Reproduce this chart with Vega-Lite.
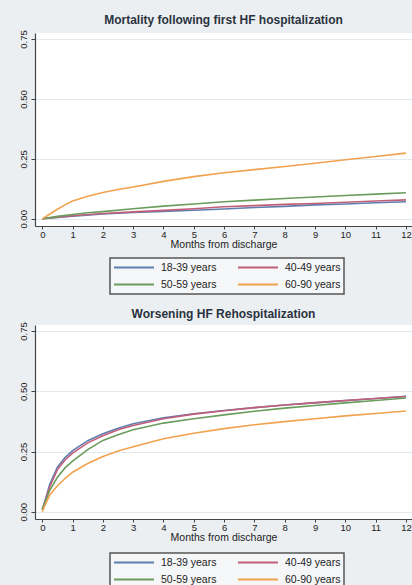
{
  "$schema": "https://vega.github.io/schema/vega-lite/v6.json",
  "background": "#eceff2",
  "padding": {"left": 18, "top": 13, "right": 0, "bottom": 0},
  "spacing": 12,
  "config": {
    "font": "Liberation Sans",
    "view": {"fill": "#ffffff", "stroke": null},
    "axis": {
      "domainColor": "#444444",
      "domainWidth": 1.2,
      "tickColor": "#444444",
      "labelColor": "#222222",
      "titleColor": "#222222",
      "labelFont": "Liberation Sans",
      "titleFont": "Liberation Sans",
      "gridColor": "#e3eaee",
      "gridWidth": 1
    },
    "title": {"font": "Liberation Sans", "fontSize": 12, "fontWeight": "bold", "color": "#2a3340", "offset": 3},
    "legend": {
      "orient": "none",
      "legendX": 75,
      "legendY": 225,
      "columns": 2,
      "direction": "horizontal",
      "title": null,
      "symbolType": "stroke",
      "symbolSize": 1600,
      "symbolStrokeWidth": 1.8,
      "clipHeight": 13,
      "labelFont": "Liberation Sans",
      "labelFontSize": 10.5,
      "labelColor": "#222222",
      "labelOffset": 6,
      "columnPadding": 20,
      "rowPadding": 4,
      "padding": 3,
      "fillColor": "#f5f6f8",
      "strokeColor": "#555555",
      "strokeWidth": 1.5
    }
  },
  "datasets": {
    "mort": [
      {"month": 0, "value": 0, "group": "18-39 years"},
      {"month": 0.5, "value": 0.006, "group": "18-39 years"},
      {"month": 1, "value": 0.011, "group": "18-39 years"},
      {"month": 2, "value": 0.02, "group": "18-39 years"},
      {"month": 3, "value": 0.026, "group": "18-39 years"},
      {"month": 4, "value": 0.031, "group": "18-39 years"},
      {"month": 5, "value": 0.036, "group": "18-39 years"},
      {"month": 6, "value": 0.041, "group": "18-39 years"},
      {"month": 7, "value": 0.047, "group": "18-39 years"},
      {"month": 8, "value": 0.052, "group": "18-39 years"},
      {"month": 9, "value": 0.058, "group": "18-39 years"},
      {"month": 10, "value": 0.062, "group": "18-39 years"},
      {"month": 11, "value": 0.067, "group": "18-39 years"},
      {"month": 12, "value": 0.071, "group": "18-39 years"},
      {"month": 0, "value": 0, "group": "40-49 years"},
      {"month": 0.5, "value": 0.007, "group": "40-49 years"},
      {"month": 1, "value": 0.013, "group": "40-49 years"},
      {"month": 2, "value": 0.022, "group": "40-49 years"},
      {"month": 3, "value": 0.029, "group": "40-49 years"},
      {"month": 4, "value": 0.035, "group": "40-49 years"},
      {"month": 5, "value": 0.042, "group": "40-49 years"},
      {"month": 6, "value": 0.05, "group": "40-49 years"},
      {"month": 7, "value": 0.055, "group": "40-49 years"},
      {"month": 8, "value": 0.06, "group": "40-49 years"},
      {"month": 9, "value": 0.064, "group": "40-49 years"},
      {"month": 10, "value": 0.069, "group": "40-49 years"},
      {"month": 11, "value": 0.074, "group": "40-49 years"},
      {"month": 12, "value": 0.079, "group": "40-49 years"},
      {"month": 0, "value": 0, "group": "50-59 years"},
      {"month": 0.25, "value": 0.005, "group": "50-59 years"},
      {"month": 0.5, "value": 0.01, "group": "50-59 years"},
      {"month": 1, "value": 0.018, "group": "50-59 years"},
      {"month": 1.5, "value": 0.025, "group": "50-59 years"},
      {"month": 2, "value": 0.03, "group": "50-59 years"},
      {"month": 3, "value": 0.042, "group": "50-59 years"},
      {"month": 4, "value": 0.053, "group": "50-59 years"},
      {"month": 5, "value": 0.062, "group": "50-59 years"},
      {"month": 6, "value": 0.071, "group": "50-59 years"},
      {"month": 7, "value": 0.078, "group": "50-59 years"},
      {"month": 8, "value": 0.085, "group": "50-59 years"},
      {"month": 9, "value": 0.091, "group": "50-59 years"},
      {"month": 10, "value": 0.097, "group": "50-59 years"},
      {"month": 11, "value": 0.103, "group": "50-59 years"},
      {"month": 12, "value": 0.109, "group": "50-59 years"},
      {"month": 0, "value": 0, "group": "60-90 years"},
      {"month": 0.1, "value": 0.008, "group": "60-90 years"},
      {"month": 0.25, "value": 0.02, "group": "60-90 years"},
      {"month": 0.5, "value": 0.04, "group": "60-90 years"},
      {"month": 0.75, "value": 0.058, "group": "60-90 years"},
      {"month": 1, "value": 0.074, "group": "60-90 years"},
      {"month": 1.5, "value": 0.094, "group": "60-90 years"},
      {"month": 2, "value": 0.11, "group": "60-90 years"},
      {"month": 2.5, "value": 0.122, "group": "60-90 years"},
      {"month": 3, "value": 0.133, "group": "60-90 years"},
      {"month": 4, "value": 0.156, "group": "60-90 years"},
      {"month": 5, "value": 0.176, "group": "60-90 years"},
      {"month": 6, "value": 0.192, "group": "60-90 years"},
      {"month": 7, "value": 0.205, "group": "60-90 years"},
      {"month": 8, "value": 0.218, "group": "60-90 years"},
      {"month": 9, "value": 0.232, "group": "60-90 years"},
      {"month": 10, "value": 0.246, "group": "60-90 years"},
      {"month": 11, "value": 0.26, "group": "60-90 years"},
      {"month": 12, "value": 0.274, "group": "60-90 years"}
    ],
    "rehosp": [
      {"month": 0, "value": 0.01, "group": "18-39 years"},
      {"month": 0.1, "value": 0.05, "group": "18-39 years"},
      {"month": 0.25, "value": 0.115, "group": "18-39 years"},
      {"month": 0.5, "value": 0.185, "group": "18-39 years"},
      {"month": 0.75, "value": 0.225, "group": "18-39 years"},
      {"month": 1, "value": 0.254, "group": "18-39 years"},
      {"month": 1.5, "value": 0.295, "group": "18-39 years"},
      {"month": 2, "value": 0.324, "group": "18-39 years"},
      {"month": 2.5, "value": 0.347, "group": "18-39 years"},
      {"month": 3, "value": 0.365, "group": "18-39 years"},
      {"month": 4, "value": 0.39, "group": "18-39 years"},
      {"month": 5, "value": 0.407, "group": "18-39 years"},
      {"month": 6, "value": 0.42, "group": "18-39 years"},
      {"month": 7, "value": 0.432, "group": "18-39 years"},
      {"month": 8, "value": 0.443, "group": "18-39 years"},
      {"month": 9, "value": 0.452, "group": "18-39 years"},
      {"month": 10, "value": 0.461, "group": "18-39 years"},
      {"month": 11, "value": 0.47, "group": "18-39 years"},
      {"month": 12, "value": 0.479, "group": "18-39 years"},
      {"month": 0, "value": 0.01, "group": "40-49 years"},
      {"month": 0.1, "value": 0.045, "group": "40-49 years"},
      {"month": 0.25, "value": 0.105, "group": "40-49 years"},
      {"month": 0.5, "value": 0.175, "group": "40-49 years"},
      {"month": 0.75, "value": 0.215, "group": "40-49 years"},
      {"month": 1, "value": 0.243, "group": "40-49 years"},
      {"month": 1.5, "value": 0.286, "group": "40-49 years"},
      {"month": 2, "value": 0.315, "group": "40-49 years"},
      {"month": 2.5, "value": 0.34, "group": "40-49 years"},
      {"month": 3, "value": 0.358, "group": "40-49 years"},
      {"month": 4, "value": 0.386, "group": "40-49 years"},
      {"month": 5, "value": 0.405, "group": "40-49 years"},
      {"month": 6, "value": 0.419, "group": "40-49 years"},
      {"month": 7, "value": 0.432, "group": "40-49 years"},
      {"month": 8, "value": 0.443, "group": "40-49 years"},
      {"month": 9, "value": 0.453, "group": "40-49 years"},
      {"month": 10, "value": 0.462, "group": "40-49 years"},
      {"month": 11, "value": 0.47, "group": "40-49 years"},
      {"month": 12, "value": 0.478, "group": "40-49 years"},
      {"month": 0, "value": 0.01, "group": "50-59 years"},
      {"month": 0.1, "value": 0.04, "group": "50-59 years"},
      {"month": 0.25, "value": 0.09, "group": "50-59 years"},
      {"month": 0.5, "value": 0.143, "group": "50-59 years"},
      {"month": 0.75, "value": 0.182, "group": "50-59 years"},
      {"month": 1, "value": 0.21, "group": "50-59 years"},
      {"month": 1.5, "value": 0.258, "group": "50-59 years"},
      {"month": 2, "value": 0.296, "group": "50-59 years"},
      {"month": 2.5, "value": 0.32, "group": "50-59 years"},
      {"month": 3, "value": 0.34, "group": "50-59 years"},
      {"month": 4, "value": 0.368, "group": "50-59 years"},
      {"month": 5, "value": 0.386, "group": "50-59 years"},
      {"month": 6, "value": 0.402, "group": "50-59 years"},
      {"month": 7, "value": 0.417, "group": "50-59 years"},
      {"month": 8, "value": 0.43, "group": "50-59 years"},
      {"month": 9, "value": 0.441, "group": "50-59 years"},
      {"month": 10, "value": 0.452, "group": "50-59 years"},
      {"month": 11, "value": 0.462, "group": "50-59 years"},
      {"month": 12, "value": 0.472, "group": "50-59 years"},
      {"month": 0, "value": 0.0, "group": "60-90 years"},
      {"month": 0.1, "value": 0.03, "group": "60-90 years"},
      {"month": 0.25, "value": 0.07, "group": "60-90 years"},
      {"month": 0.5, "value": 0.108, "group": "60-90 years"},
      {"month": 0.75, "value": 0.138, "group": "60-90 years"},
      {"month": 1, "value": 0.164, "group": "60-90 years"},
      {"month": 1.5, "value": 0.2, "group": "60-90 years"},
      {"month": 2, "value": 0.229, "group": "60-90 years"},
      {"month": 2.5, "value": 0.252, "group": "60-90 years"},
      {"month": 3, "value": 0.27, "group": "60-90 years"},
      {"month": 4, "value": 0.303, "group": "60-90 years"},
      {"month": 5, "value": 0.326, "group": "60-90 years"},
      {"month": 6, "value": 0.345, "group": "60-90 years"},
      {"month": 7, "value": 0.361, "group": "60-90 years"},
      {"month": 8, "value": 0.374, "group": "60-90 years"},
      {"month": 9, "value": 0.386, "group": "60-90 years"},
      {"month": 10, "value": 0.398, "group": "60-90 years"},
      {"month": 11, "value": 0.408, "group": "60-90 years"},
      {"month": 12, "value": 0.418, "group": "60-90 years"}
    ]
  },
  "resolve": {"legend": {"color": "independent"}},
  "vconcat": [
    {
      "width": 377,
      "height": 193,
      "title": "Mortality following first HF hospitalization",
      "data": {"name": "mort"},
      "mark": {"type": "line", "strokeWidth": 1.6},
      "encoding": {
        "x": {
          "field": "month", "type": "quantitative",
          "scale": {"domain": [-0.24, 12.2], "nice": false, "zero": false},
          "axis": {"values": [0,1,2,3,4,5,6,7,8,9,10,11,12], "title": "Months from discharge", "grid": false,
                   "labelFontSize": 9.5, "titleFontSize": 10.5, "titleFontWeight": "normal",
                   "tickSize": 3, "labelPadding": 0, "titlePadding": 1}
        },
        "y": {
          "field": "value", "type": "quantitative",
          "scale": {"domain": [-0.03, 0.775], "nice": false, "zero": false},
          "axis": {"values": [0, 0.25, 0.5, 0.75], "format": ".2f", "title": null,
                   "labelAngle": -90, "labelAlign": "center", "labelBaseline": "bottom",
                   "labelFontSize": 9.5, "tickSize": 4, "labelPadding": 3}
        },
        "color": {
          "field": "group", "type": "nominal",
          "scale": {"domain": ["18-39 years", "40-49 years", "50-59 years", "60-90 years"],
                    "range": ["#5f7fb0", "#c25f78", "#6a9c5c", "#f2a24f"]}
        }
      }
    },
    {
      "width": 377,
      "height": 194,
      "title": {"text": "Worsening HF Rehospitalization", "offset": 1},
      "data": {"name": "rehosp"},
      "mark": {"type": "line", "strokeWidth": 1.6},
      "encoding": {
        "x": {
          "field": "month", "type": "quantitative",
          "scale": {"domain": [-0.24, 12.2], "nice": false, "zero": false},
          "axis": {"values": [0,1,2,3,4,5,6,7,8,9,10,11,12], "title": "Months from discharge", "grid": false,
                   "labelFontSize": 9.5, "titleFontSize": 10.5, "titleFontWeight": "normal",
                   "tickSize": 3, "labelPadding": 0, "titlePadding": 1}
        },
        "y": {
          "field": "value", "type": "quantitative",
          "scale": {"domain": [-0.03, 0.775], "nice": false, "zero": false},
          "axis": {"values": [0, 0.25, 0.5, 0.75], "format": ".2f", "title": null,
                   "labelAngle": -90, "labelAlign": "center", "labelBaseline": "bottom",
                   "labelFontSize": 9.5, "tickSize": 4, "labelPadding": 3}
        },
        "color": {
          "field": "group", "type": "nominal",
          "scale": {"domain": ["18-39 years", "40-49 years", "50-59 years", "60-90 years"],
                    "range": ["#5f7fb0", "#c25f78", "#6a9c5c", "#f2a24f"]},
          "legend": {"legendY": 228}
        }
      }
    }
  ]
}
